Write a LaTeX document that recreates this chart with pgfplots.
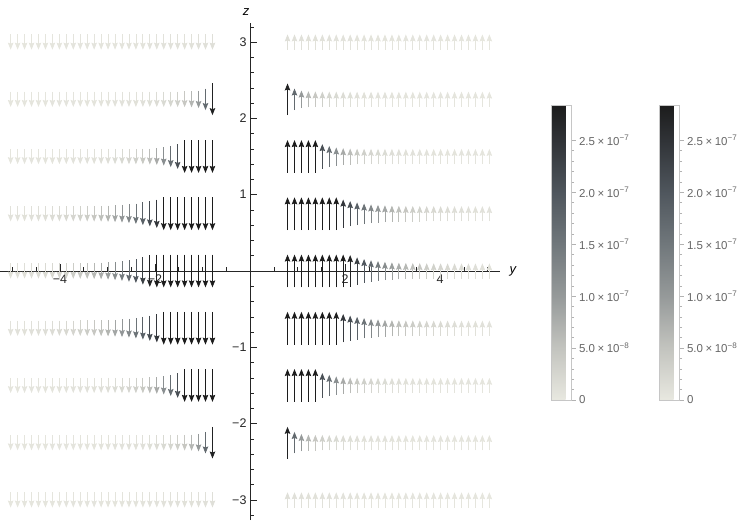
\documentclass[border=0pt]{standalone}
\usepackage{fontspec}
\setmainfont{Liberation Sans}
\usepackage{pgfplots}
\usepackage{pgfplotstable}
\pgfplotsset{compat=1.18}
\usetikzlibrary{arrows.meta}

% magnitude (units of 1e-7) read off the right half, rows |z| = 0, 0.75, 1.5, 2.25, 3
\pgfplotstableread{
y     m0   m1   m2   m3   m4
0.790 2.84 2.84 2.84 2.75 0.12
0.937 2.84 2.84 2.84 1.70 0.11
1.083 2.84 2.84 2.84 1.00 0.11
1.230 2.84 2.84 2.84 0.65 0.10
1.376 2.84 2.84 2.84 0.45 0.10
1.523 2.84 2.84 2.10 0.33 0.09
1.669 2.84 2.84 1.65 0.25 0.09
1.816 2.84 2.84 1.15 0.20 0.08
1.962 2.84 2.45 0.80 0.16 0.08
2.109 2.75 2.15 0.58 0.13 0.08
2.255 2.35 1.85 0.43 0.11 0.07
2.402 2.00 1.55 0.33 0.10 0.07
2.548 1.70 1.25 0.26 0.09 0.07
2.695 1.45 1.05 0.21 0.08 0.06
2.841 1.20 0.85 0.17 0.08 0.06
2.988 0.95 0.68 0.14 0.07 0.06
3.134 0.78 0.55 0.12 0.07 0.06
3.281 0.64 0.45 0.10 0.06 0.05
3.427 0.53 0.37 0.09 0.06 0.05
3.574 0.44 0.31 0.08 0.06 0.05
3.720 0.37 0.26 0.08 0.05 0.05
3.867 0.31 0.22 0.07 0.05 0.05
4.013 0.26 0.19 0.07 0.05 0.04
4.160 0.22 0.16 0.06 0.05 0.04
4.306 0.19 0.14 0.06 0.04 0.04
4.453 0.16 0.12 0.05 0.04 0.04
4.599 0.14 0.11 0.05 0.04 0.04
4.746 0.12 0.10 0.05 0.04 0.04
4.892 0.11 0.09 0.04 0.04 0.03
5.039 0.10 0.08 0.04 0.04 0.03
}\field

\newcommand{\x}{\hspace{0.22em}×\hspace{0.22em}}

\pgfplotsset{
  colormap={graytones}{rgb255(0cm)=(232,232,224) rgb255(1.8cm)=(194,195,190)
    rgb255(3.5cm)=(150,154,154) rgb255(5.3cm)=(112,119,123) rgb255(7cm)=(80,87,94)
    rgb255(8.8cm)=(48,51,55) rgb255(10cm)=(28,28,28)},
  vec/.style={
    point meta=explicit,
    quiver={colored},
    -{Stealth[length=7bp,width=5.5bp,inset=1bp]},
    line width=0.8bp,
  },
  cbar/.style={
    hide axis, scale only axis, width=20bp, height=295bp,
    xmin=0, xmax=1, ymin=0, ymax=1,
    point meta min=0, point meta max=2.84,
    colorbar,
    colorbar style={
      at={(parent axis.south west)}, anchor=south west,
      width=20bp, height=295bp,
      axis line style={draw=gray!45},
      ytick={0,0.5,1,1.5,2,2.5},
      yticklabels={0,
        5.0\x10\textsuperscript{−8},
        1.0\x10\textsuperscript{−7},
        1.5\x10\textsuperscript{−7},
        2.0\x10\textsuperscript{−7},
        2.5\x10\textsuperscript{−7}},
      minor y tick num=4,
      ytick pos=right, tick align=outside,
      major tick length=4bp, minor tick length=2.5bp,
      tick style={gray!60, line width=0.4bp},
      yticklabel style={font=\fontsize{11.5bp}{13bp}\selectfont, text=black!60},
    },
  },
}

% one row of arrows: #1 side (+1 right/up, -1 left/down), #2 height z, #3 column
\newcommand{\vrow}[3]{%
  \addplot[vec, quiver={u=0, v={(#1)*alen(\thisrow{#3})}}]
    table[x expr={(#1)*\thisrow{y}}, y expr={#2-0.5*(#1)*alen(\thisrow{#3})}, meta=#3] {\field};
}

\begin{document}
\begin{tikzpicture}[declare function={alen(\m)=0.2+0.23*(min(\m,2.84)/2.84)^2;}]
\useasboundingbox (0,0) rectangle (747bp,524bp);

\begin{axis}[
    at={(0bp,4bp)}, anchor=south west,
    scale only axis, width=500bp, height=497bp,
    xmin=-5.263, xmax=5.263, ymin=-3.263, ymax=3.25,
    clip=false,
    axis lines=middle,
    axis line style={-, line width=0.6bp, black!85},
    xtick={-4,-2,2,4}, xticklabels={−4,−2,2,4},
    ytick={-3,-2,-1,1,2,3}, yticklabels={−3,−2,−1,1,2,3},
    minor xtick={-5,-4.5,...,5},
    minor ytick={-3.2,-3,...,3.21},
    tick align=inside,
    major tick length=7bp, minor tick length=4bp,
    tick style={black!85, line width=0.5bp},
    ticklabel style={font=\fontsize{12.5bp}{14bp}\selectfont, text=black!85},
    label style={font=\fontsize{13bp}{15bp}\selectfont},
    xlabel={\textit{y}}, ylabel={\textit{z}},
    xlabel style={at={(axis cs:5.263,0)}, anchor=west, xshift=6bp},
    ylabel style={at={(axis cs:0,3.25)}, anchor=south, yshift=4bp, xshift=-4bp},
    point meta min=0, point meta max=2.84,
  ]
  \vrow{1}{3}{m4}      \vrow{-1}{3}{m4}
  \vrow{1}{2.25}{m3}   \vrow{-1}{2.25}{m3}
  \vrow{1}{1.5}{m2}    \vrow{-1}{1.5}{m2}
  \vrow{1}{0.75}{m1}   \vrow{-1}{0.75}{m1}
  \vrow{1}{0}{m0}      \vrow{-1}{0}{m0}
  \vrow{1}{-0.75}{m1}  \vrow{-1}{-0.75}{m1}
  \vrow{1}{-1.5}{m2}   \vrow{-1}{-1.5}{m2}
  \vrow{1}{-2.25}{m3}  \vrow{-1}{-2.25}{m3}
  \vrow{1}{-3}{m4}     \vrow{-1}{-3}{m4}
\end{axis}

\begin{axis}[cbar, at={(543bp,124bp)}, anchor=south west]
  \addplot[draw=none] coordinates {(0,0)};
\end{axis}
\begin{axis}[cbar, at={(651bp,124bp)}, anchor=south west]
  \addplot[draw=none] coordinates {(0,0)};
\end{axis}
\end{tikzpicture}
\end{document}
